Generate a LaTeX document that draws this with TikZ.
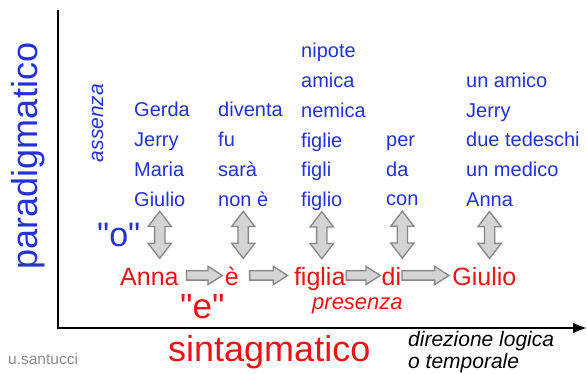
\documentclass[tikz,border=0pt]{standalone}
\usepackage{fontspec}
\setmainfont{Liberation Sans}
\newfontfamily\dritto{Liberation Sans}
\usetikzlibrary{positioning,arrows.meta,shapes.arrows}
\tikzset{>={Latex[length=14pt,width=11pt]}}
\definecolor{blu}{RGB}{35,50,215}
\definecolor{rosso}{RGB}{235,20,20}
\definecolor{bordo}{RGB}{135,135,135}
\definecolor{riemp}{RGB}{212,212,212}
\tikzset{
  parola/.style={font=\fontsize{20}{20}\selectfont, text=blu, inner sep=0pt,
    text height=14pt, text depth=4pt},
  catena/.style={font=\fontsize{25}{25}\selectfont, text=rosso, inner sep=0pt,
    text height=21pt, text depth=0pt},
  scelta/.style={double arrow, shape border rotate=90, draw=bordo, fill=riemp,
    line width=1.3pt, minimum height=47pt, inner sep=4.5pt,
    double arrow head extend=6.5pt, double arrow tip angle=75},
  passo/.style={single arrow, draw=bordo, fill=riemp, line width=1.3pt,
    inner sep=4pt, single arrow head extend=4.5pt, single arrow tip angle=65},
}

\begin{document}
\begin{tikzpicture}[x=1pt, y=-1pt, node distance=11.3pt]
    \useasboundingbox (0,0) rectangle (587,374);
    % assi
    \coordinate (cima) at (58,10);
    \coordinate (origine) at (58,328);
    \coordinate (fine) at (587,328);
    \draw[line width=2.5pt, ->] (cima) -- (origine) -- (fine);
    \node[font=\fontsize{36}{36}\selectfont, text=blu, rotate=90, anchor=base, inner sep=0pt] (para) at (37,156) {paradigmatico};
    \node[font=\fontsize{36}{36}\selectfont, text=rosso, anchor=base west, inner sep=0pt] (sint) at (168,362) {sintagmatico};
    \node[font=\fontsize{21}{21}\selectfont\itshape, text=blu, rotate=90, anchor=base, inner sep=0pt] (assenza) at (103,123) {assenza};
    \node[font=\fontsize{21}{22}\selectfont\itshape, align=left, anchor=north west, inner sep=0pt] (dir) at (408,331) {direzione logica\\o temporale};
    \node[font=\fontsize{15.5}{15.5}\selectfont, text=black!45, anchor=base west, inner sep=0pt] (firma) at (8,365) {u.santucci};

    % colonne
    \node[parola, anchor=base west] (g1) at (134,117) {Gerda};
    \node[parola, below=of g1.south west, anchor=north west] (g2) {Jerry};
    \node[parola, below=of g2.south west, anchor=north west] (g3) {Maria};
    \node[parola, below=of g3.south west, anchor=north west] (g4) {Giulio};
    \node[parola, anchor=base west] (v1) at (218,117) {diventa};
    \node[parola, below=of v1.south west, anchor=north west] (v2) {fu};
    \node[parola, below=of v2.south west, anchor=north west] (v3) {sarà};
    \node[parola, below=of v3.south west, anchor=north west] (v4) {non è};
    \node[parola, anchor=base west] (n1) at (301,58) {nipote};
    \node[parola, below=of n1.south west, anchor=north west] (n2) {amica};
    \node[parola, below=of n2.south west, anchor=north west] (n3) {nemica};
    \node[parola, below=of n3.south west, anchor=north west] (n4) {figlie};
    \node[parola, below=of n4.south west, anchor=north west] (n5) {figli};
    \node[parola, below=of n5.south west, anchor=north west] (n6) {figlio};
    \node[parola, anchor=base west] (p1) at (386,146.5) {per};
    \node[parola, below=of p1.south west, anchor=north west] (p2) {da};
    \node[parola, below=of p2.south west, anchor=north west] (p3) {con};
    \node[parola, anchor=base west] (c1) at (466,87.5) {un amico};
    \node[parola, below=of c1.south west, anchor=north west] (c2) {Jerry};
    \node[parola, below=of c2.south west, anchor=north west] (c3) {due tedeschi};
    \node[parola, below=of c3.south west, anchor=north west] (c4) {un medico};
    \node[parola, below=of c4.south west, anchor=north west] (c5) {Anna};

    % frecce di scelta
    \node[scelta, below=0pt of g4] (s1) {};
    \node[scelta, below=0pt of v4] (s2) {};
    \node[scelta, below=0pt of n6] (s3) {};
    \node[scelta, below=0pt of p3] (s4) {};
    \node[scelta, below=0pt of c5] (s5) {};
    \node[font=\dritto\fontsize{34}{34}\selectfont, text=blu, anchor=base west, inner sep=0pt] (o) at (97,247) {"o"};

    % catena
    \node[catena, anchor=base west] (anna) at (120,286) {Anna};
    \node[passo, minimum height=36pt, right=7pt of anna] (h1) {};
    \node[catena, right=1pt of h1] (e) {è};
    \node[passo, minimum height=38pt, right=10pt of e] (h2) {};
    \node[catena, right=5pt of h2] (figlia) {figlia};
    \node[passo, minimum height=34pt, right=0pt of figlia] (h3) {};
    \node[catena, right=0pt of h3] (di) {di};
    \node[passo, minimum height=47pt, right=0pt of di] (h4) {};
    \node[catena, right=2pt of h4] (giulio) {Giulio};
    \node[font=\dritto\fontsize{35}{35}\selectfont, text=rosso, anchor=base west, inner sep=0pt] (enode) at (180,319) {"e"};
    \node[font=\fontsize{22}{22}\selectfont\itshape, text=rosso, anchor=base west, inner sep=0pt] (presenza) at (312,310) {presenza};
\end{tikzpicture}
\end{document}
